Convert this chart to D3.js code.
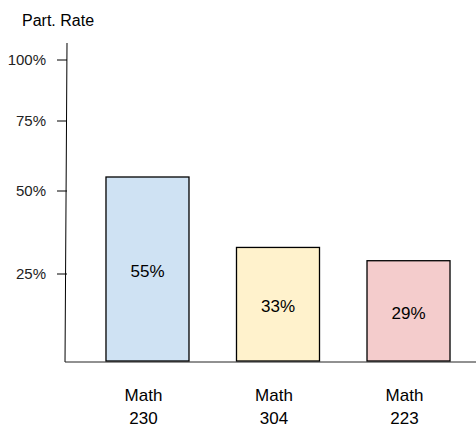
<!DOCTYPE html>
<html><head><meta charset="utf-8">
<script src="https://cdn.jsdelivr.net/npm/d3@7"></script>
<style>body{margin:0;background:#fff}text{font-family:"Liberation Sans",Arial,sans-serif}</style>
</head><body><svg id="chart" width="476" height="429"></svg>
<script>
var courses = ["Math\n230", "Math\n304", "Math\n223"];
var rates = [55, 33, 29];
var colors = ["#cfe2f3", "#fff2cc", "#f4cccc"];
var tickValues = [25, 50, 75, 100];

var svg = d3.select("#chart");
// hand-drawn axis: uneven tick spacing, so a piecewise scale
var y = d3.scaleLinear().domain([0, 25, 50, 75, 100]).range([362, 274, 191, 121, 60]);
var x = d3.scaleBand().domain(courses).range([83.8, 472.2]).paddingInner(0.364).paddingOuter(0.17);

svg.append("text").attr("x", 22).attr("y", 26).attr("font-size", 16).text("Part. Rate");

svg.append("line").attr("x1", 67).attr("y1", 43).attr("x2", 65).attr("y2", 362).attr("stroke", "#000");
svg.append("line").attr("x1", 65).attr("y1", 362).attr("x2", 476).attr("y2", 362).attr("stroke", "#222");

tickValues.forEach(function(t) {
  svg.append("line").attr("x1", 57).attr("x2", 67).attr("y1", y(t)).attr("y2", y(t)).attr("stroke", "#000");
  svg.append("text").attr("x", 46).attr("y", y(t) + 5).attr("text-anchor", "end")
    .attr("font-size", 15).attr("fill", "#222").text(t + "%");
});

courses.forEach(function(c, i) {
  var bx = x(c), bw = x.bandwidth(), top = y(rates[i]);
  svg.append("rect").attr("x", bx).attr("y", top).attr("width", bw).attr("height", 361 - top)
    .attr("fill", colors[i]).attr("stroke", "#000").attr("stroke-width", 1.3);
  svg.append("text").attr("x", bx + bw / 2).attr("y", (top + 361) / 2 + 8).attr("text-anchor", "middle")
    .attr("font-size", 17).text(rates[i] + "%");
  c.split("\n").forEach(function(line, j) {
    svg.append("text").attr("x", bx + bw / 2 - 4).attr("y", 401 + j * 23).attr("text-anchor", "middle")
      .attr("font-size", 17).text(line);
  });
});
</script></body></html>
